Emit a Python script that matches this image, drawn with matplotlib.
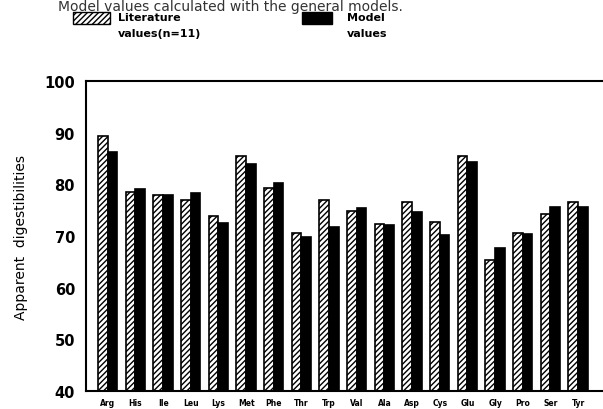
import numpy as np
import matplotlib
matplotlib.use("Agg")
import matplotlib.pyplot as plt
from matplotlib.patches import Rectangle

amino = ["Arg", "His", "Ile", "Leu", "Lys", "Met", "Phe", "Thr", "Trp",
         "Val", "Ala", "Asp", "Cys", "Glu", "Gly", "Pro", "Ser", "Tyr"]
literature = [89.3, 78.5, 77.9, 77.0, 73.8, 85.5, 79.2, 70.6, 77.0,
              74.9, 72.4, 76.6, 72.7, 85.5, 65.4, 70.5, 74.2, 76.6]
model = [86.3, 79.0, 77.9, 78.4, 72.6, 83.9, 80.3, 69.8, 71.8,
         75.5, 72.2, 74.7, 70.2, 84.4, 67.7, 70.3, 75.6, 75.6]

plt.rcParams['font.family'] = ['DejaVu Sans']
plt.rcParams['hatch.linewidth'] = 1.0

fig = plt.figure(figsize=(6.03, 4.10), dpi=100)
ax = fig.add_axes([0.143, 0.044, 0.857, 0.756])

x = np.arange(len(amino))
w = 0.35
ax.bar(x - w / 2, literature, w, color='white', edgecolor='black',
       hatch='//////', linewidth=1.2)
ax.bar(x + w / 2, model, w, color='black', edgecolor='black', linewidth=1.2)

ax.set_ylim(40, 100)
ax.set_xlim(-0.78, 17.9)
ax.set_yticks([40, 50, 60, 70, 80, 90, 100])
ax.set_yticklabels(["40", "50", "60", "70", "80", "90", "100"],
                   fontsize=10.5, fontweight='bold')
ax.set_xticks(x)
ax.set_xticklabels(amino, fontsize=5.5, fontweight='bold')
ax.tick_params(axis='both', length=0)
ax.tick_params(axis='y', pad=8)
ax.tick_params(axis='x', pad=5)
ax.spines['right'].set_visible(False)
for s in ['left', 'top', 'bottom']:
    ax.spines[s].set_linewidth(1.5)

fig.text(0.035, 0.42, "Apparent  digestibilities", rotation=90,
         ha='center', va='center', fontsize=10)

# title (cut off at top of the original scan)
fig.text(0.097, 0.999, "Model values calculated with the general models.",
         ha='left', va='top', fontsize=10, color='#333333')

# legend
fig.patches.append(Rectangle((0.121, 0.939), 0.062, 0.03, transform=fig.transFigure,
                             facecolor='white', edgecolor='black', hatch='//////',
                             linewidth=1.0))
fig.patches.append(Rectangle((0.501, 0.939), 0.05, 0.03, transform=fig.transFigure,
                             facecolor='black', edgecolor='black', linewidth=1.0))
fig.text(0.196, 0.955, "Literature", fontsize=8, fontweight='bold', va='center')
fig.text(0.196, 0.917, "values(n=11)", fontsize=8, fontweight='bold', va='center')
fig.text(0.575, 0.955, "Model", fontsize=8, fontweight='bold', va='center')
fig.text(0.575, 0.917, "values", fontsize=8, fontweight='bold', va='center')

fig.savefig("out.png", dpi=100)
